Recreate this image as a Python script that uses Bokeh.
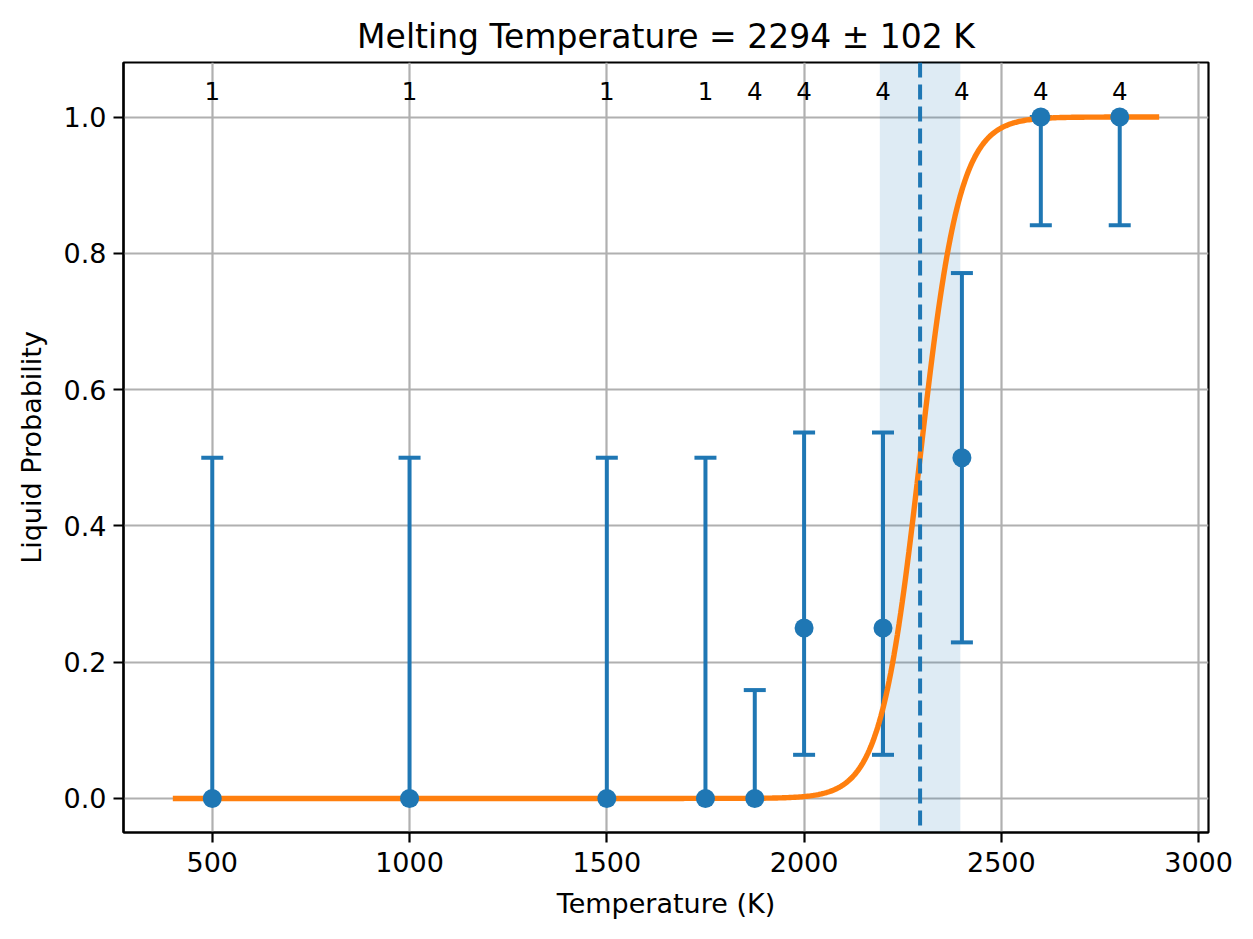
import numpy as np
from bokeh.plotting import figure
from bokeh.models import Range1d, FixedTicker, PrintfTickFormatter, ColumnDataSource, BoxAnnotation, Span
from bokeh.core.properties import value
from bokeh.embed import file_html
from bokeh.resources import INLINE

# ---- data ----
temperatures = [500, 1000, 1500, 1750, 1875, 2000, 2200, 2400, 2600, 2800]
liquid_prob = [0.0, 0.0, 0.0, 0.0, 0.0, 0.25, 0.25, 0.5, 1.0, 1.0]
prob_lower = [0.0, 0.0, 0.0, 0.0, 0.0, 0.064, 0.064, 0.229, 0.841, 0.841]
prob_upper = [0.5, 0.5, 0.5, 0.5, 0.159, 0.537, 0.537, 0.771, 1.0, 1.0]
n_runs = [1, 1, 1, 1, 4, 4, 4, 4, 4, 4]

melt_T = 2294
melt_err = 102
fit_scale = 50.0          # logistic width of the fitted curve
fit_T_min, fit_T_max = 400, 2900

x_ticks = [500, 1000, 1500, 2000, 2500, 3000]
y_ticks = [0.0, 0.2, 0.4, 0.6, 0.8, 1.0]

BLUE = "#1f77b4"
ORANGE = "#ff7f0e"
FONT = "DejaVu Sans"

p = figure(width=1245, height=931, output_backend="svg", toolbar_location=None,
           x_range=Range1d(275, 3025), y_range=Range1d(-0.05, 1.08),
           min_border_left=123, min_border_right=37, min_border_top=62, min_border_bottom=99)

p.title.text = f"Melting Temperature = {melt_T} \u00b1 {melt_err} K"
p.title.text_font = FONT
p.title.text_font_size = "33px"
p.title.text_font_style = "normal"
p.title.align = "center"
p.title.text_color = "black"
p.title.standoff = 14

p.background_fill_color = "white"
p.border_fill_color = "white"
p.outline_line_color = "black"
p.outline_line_width = 2.2

for ax in (p.xaxis[0], p.yaxis[0]):
    ax.axis_line_width = 2.2
    ax.axis_line_color = "black"
    ax.major_tick_line_width = 2.2
    ax.major_tick_out = 10
    ax.major_tick_in = 0
    ax.minor_tick_line_color = None
    ax.major_label_text_font = FONT
    ax.major_label_text_font_size = "27px"
    ax.major_label_text_color = "black"
    ax.axis_label_text_font = FONT
    ax.axis_label_text_font_size = "27px"
    ax.axis_label_text_font_style = "normal"
    ax.axis_label_text_color = "black"

p.xaxis.major_label_standoff = 9
p.yaxis.major_label_standoff = 7
p.xaxis.axis_label_standoff = 13
p.yaxis.axis_label_standoff = 14

p.xaxis.ticker = FixedTicker(ticks=x_ticks)
p.yaxis.ticker = FixedTicker(ticks=y_ticks)
p.yaxis.formatter = PrintfTickFormatter(format="%.1f")
p.xaxis.axis_label = "Temperature (K)"
p.yaxis.axis_label = "Liquid Probability"

p.grid.grid_line_color = "#b0b0b0"
p.grid.grid_line_width = 2.2

# uncertainty band of the melting temperature
band = BoxAnnotation(left=melt_T - melt_err, right=melt_T + melt_err,
                     fill_color=BLUE, fill_alpha=0.15, line_color=None, level="underlay")
p.add_layout(band)

src = ColumnDataSource(dict(T=temperatures, p=liquid_prob, lo=prob_lower, hi=prob_upper,
                            n=[str(v) for v in n_runs]))

# error bars
p.segment(x0="T", y0="lo", x1="T", y1="hi", source=src, line_color=BLUE, line_width=4)
p.scatter(x="T", y="lo", source=src, marker="dash", size=22, line_color=BLUE, line_width=4)
p.scatter(x="T", y="hi", source=src, marker="dash", size=22, line_color=BLUE, line_width=4)

# fitted logistic curve
T_fit = np.linspace(fit_T_min, fit_T_max, 600)
p_fit = 1.0 / (1.0 + np.exp(-(T_fit - melt_T) / fit_scale))
p.line(T_fit, p_fit, line_color=ORANGE, line_width=5.4)

# data points
p.scatter(x="T", y="p", source=src, size=19, fill_color=BLUE, line_color=None)

# melting temperature
p.add_layout(Span(location=melt_T, dimension="height", line_color=BLUE,
                  line_width=4, line_dash="15 7"))

# run counts
label_y = 1.038
p.text(x="T", y=label_y, text="n", source=src, text_align="center", text_baseline="alphabetic",
       text_font=value(FONT), text_font_size="24.5px", text_color="black")

open("out.html", "w").write(file_html(p, INLINE))
